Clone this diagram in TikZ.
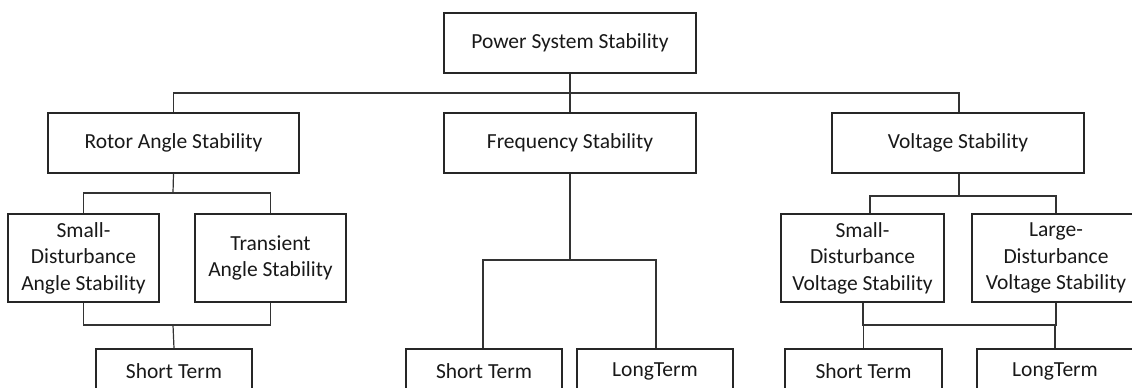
\documentclass[tikz,border=0pt]{standalone}
\usepackage{fontspec}
\setmainfont{Carlito}
\usetikzlibrary{calc}
\begin{document}
\begin{tikzpicture}[x=1pt,y=-1pt,
  box/.style={draw=black!85, line width=1.3pt, rectangle, align=center, inner sep=0pt,
     font=\fontsize{21.5}{26.5}\selectfont, text=black!90},
  conn/.style={draw=black!80, line width=1.2pt}]
\clip (0,0) rectangle (1132,388);
\fill[white] (0,0) rectangle (1132,388);
% level 0
\node[box, minimum width=252pt, minimum height=60pt] (pss) at (570,43) {Power System Stability};
% level 1
\node[box, minimum width=251pt, minimum height=60pt] (ras) at (173.5,143) {Rotor Angle Stability};
\node[box, minimum width=252pt, minimum height=60pt] (fs) at (570,143) {Frequency Stability};
\node[box, minimum width=252pt, minimum height=60pt] (vs) at (958,143) {Voltage Stability};
% level 2
\node[box, minimum width=151pt, minimum height=88pt] (sdas) at (83.5,258) {Small-\\Disturbance\\Angle Stability};
\node[box, minimum width=151pt, minimum height=88pt] (tas) at (270.5,258) {Transient\\Angle Stability};
\node[box, minimum width=163pt, minimum height=88pt] (sdvs) at (862.5,258) {Small-\\Disturbance\\Voltage Stability};
\node[box, minimum width=168pt, minimum height=88pt] (ldvs) at (1056,258) {Large-\\Disturbance\\Voltage Stability};
% level 3
\node[box, minimum width=156pt, minimum height=44pt] (st1) at (174,371) {Short Term};
\node[box, minimum width=156pt, minimum height=44pt] (st2) at (484,371) {Short Term};
\node[box, minimum width=156pt, minimum height=44pt] (lt2) at (655,371) {LongTerm};
\node[box, minimum width=157pt, minimum height=44pt] (st3) at (863.5,371) {Short Term};
\node[box, minimum width=156pt, minimum height=44pt] (lt3) at (1055,371) {LongTerm};
% junctions
\coordinate (j0) at (570,93);
\coordinate (j1) at (173,193);
\coordinate (j1b) at (173,325);
\coordinate (j2) at (570,260);
\coordinate (j3) at (959,196);
\coordinate (j3b) at (959,325);
% connectors
\draw[conn] (pss.south) -- (fs.north);
\draw[conn] (ras.north) |- (j0) -| ($(vs.north)+(1,0)$);
\draw[conn] (ras.south) -- (j1);
\draw[conn] (sdas.north) |- (j1) -| (tas.north);
\draw[conn] (sdas.south) |- (j1b) -| (tas.south);
\draw[conn] (j1b) -- (st1.north);
\draw[conn] (fs.south) -- (j2);
\draw[conn] ($(st2.north)+(-1,0)$) |- (j2) -| ($(lt2.north)+(1,0)$);
\draw[conn] ($(vs.south)+(1,0)$) -- (j3);
\draw[conn] ($(sdvs.north)+(7.5,0)$) |- (j3) -| (ldvs.north);
\draw[conn] (st3.north) |- (j3b) -| (lt3.north);
\draw[conn] ($(sdvs.south)+(0.5,0)$) -- ($(sdvs.south)+(0.5,23)$);
\draw[conn] (ldvs.south) -- ($(ldvs.south)+(0,23)$);
\end{tikzpicture}
\end{document}
